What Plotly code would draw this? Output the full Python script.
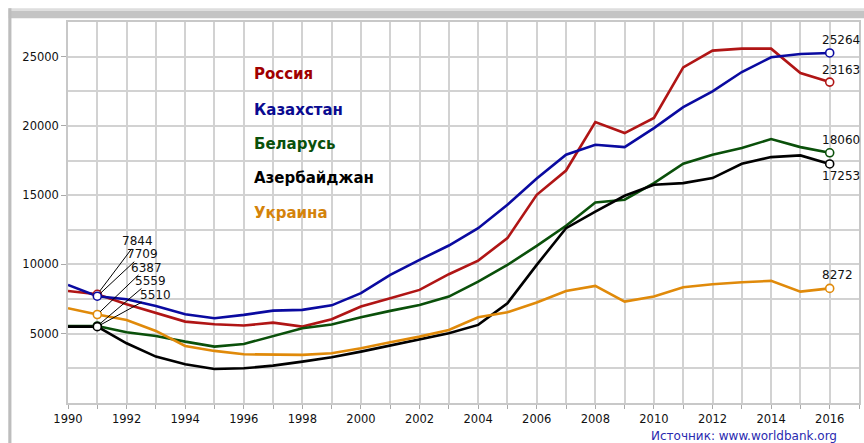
import plotly.graph_objects as go

years = list(range(1990, 2017))

russia = [8090, 7844, 7130, 6525, 5875, 5680, 5590, 5800, 5515, 6045, 6960, 7560, 8164, 9295,
          10280, 11900, 15028, 16780, 20280, 19485, 20570, 24226, 25432, 25577, 25577, 23820, 23163]
kazakhstan = [8525, 7709, 7490, 7008, 6400, 6120, 6360, 6670, 6720, 7050, 7925, 9248, 10330, 11365,
              12620, 14305, 16200, 17918, 18640, 18470, 19845, 21360, 22490, 23890, 24950, 25190, 25264]
belarus = [5560, 5559, 5105, 4840, 4430, 4070, 4260, 4840, 5395, 5660, 6190, 6650, 7080, 7680,
           8765, 9970, 11340, 12790, 14470, 14670, 15870, 17270, 17918, 18400, 19050, 18470, 18060]
azerbaijan = [5515, 5510, 4310, 3350, 2795, 2455, 2505, 2695, 2985, 3300, 3710, 4140, 4550, 5035,
              5636, 7200, 9970, 12620, 13820, 14955, 15750, 15870, 16233, 17270, 17750, 17870, 17253]
ukraine = [6840, 6387, 5997, 5200, 4120, 3760, 3515, 3470, 3470, 3590, 3950, 4385, 4790, 5274,
           6190, 6550, 7250, 8090, 8450, 7320, 7680, 8360, 8575, 8720, 8815, 8040, 8272]

names = ["Россия", "Казахстан", "Беларусь", "Азербайджан", "Украина"]
series = [russia, kazakhstan, belarus, azerbaijan, ukraine]
line_colors = ["#B01515", "#0A0AA0", "#0A500A", "#000000", "#E08A0A"]
text_colors = ["#A00000", "#0A0A90", "#0A500A", "#000000", "#D4830A"]

y_tick_vals = [5000, 10000, 15000, 20000, 25000]
x_tick_vals = list(range(1990, 2017, 2))

fig = go.Figure()

for name, vals, col in zip(names, series, line_colors):
    fig.add_trace(go.Scatter(x=years, y=vals, mode="lines", name=name,
                             line=dict(color=col, width=2.6), showlegend=False))

# endpoint markers (1991 and 2016)
for name, vals, col in zip(names, series, line_colors):
    fig.add_trace(go.Scatter(x=[years[1], years[-1]], y=[vals[1], vals[-1]], mode="markers",
                             marker=dict(symbol="circle", size=8, color="white",
                                         line=dict(color=col, width=1.6)),
                             showlegend=False, hoverinfo="skip"))

annotations = []
# legend-like labels
legend_y = [0.863, 0.770, 0.680, 0.591, 0.499]
for name, col, ly in zip(names, text_colors, legend_y):
    annotations.append(dict(xref="paper", yref="paper", x=0.233, y=ly, text="<b>" + name + "</b>",
                            showarrow=False, xanchor="left", yanchor="middle",
                            font=dict(family="DejaVu Sans", size=15, color=col)))

# 1991 value labels with leader lines
start_order = [russia, kazakhstan, ukraine, belarus, azerbaijan]
offsets = [(40, -53), (45, -42), (49, -47), (53, -45), (58, -32)]
for vals, (axp, ayp) in zip(start_order, offsets):
    annotations.append(dict(x=years[1], y=vals[1], xref="x", yref="y", text=str(vals[1]),
                            showarrow=True, arrowhead=0, arrowwidth=1, arrowcolor="#000000",
                            ax=axp, ay=ayp, standoff=4, borderpad=0,
                            font=dict(family="DejaVu Sans", size=12, color="#111111")))

# 2016 value labels
end_shift = {"Казахстан": 13, "Россия": 12, "Беларусь": 13, "Азербайджан": -12, "Украина": 13}
for name, vals in zip(names, series):
    annotations.append(dict(x=years[-1], y=vals[-1], xref="x", yref="y", text=str(vals[-1]),
                            showarrow=False, xanchor="left", yanchor="middle",
                            xshift=-10, yshift=end_shift[name],
                            font=dict(family="DejaVu Sans", size=12, color="#111111")))

annotations.append(dict(xref="paper", yref="paper", x=0.975, y=-0.087,
                        text="Источник: www.worldbank.org", showarrow=False,
                        xanchor="right", yanchor="middle",
                        font=dict(family="DejaVu Sans", size=12, color="#2A2AB0")))

shapes = [
    # top grey band of the frame
    dict(type="rect", xref="paper", yref="paper", x0=-0.075, x1=1.01, y0=1.010, y1=1.030,
         fillcolor="#C4C4C4", line=dict(width=0), layer="below"),
    dict(type="rect", xref="paper", yref="paper", x0=-0.075, x1=1.01, y0=1.030, y1=1.036,
         fillcolor="#DEDEDE", line=dict(width=0), layer="below"),
    # left border
    dict(type="rect", xref="paper", yref="paper", x0=-0.0755, x1=-0.0715, y0=-0.11, y1=1.036,
         fillcolor="#BDBDBD", line=dict(width=0), layer="below"),
]

fig.update_layout(
    width=864, height=443,
    margin=dict(l=68, r=3, t=22, b=40),
    paper_bgcolor="white", plot_bgcolor="white",
    font=dict(family="DejaVu Sans", size=11, color="#111111"),
    annotations=annotations, shapes=shapes,
    xaxis=dict(range=[1990, 2017], tickvals=x_tick_vals, ticktext=[str(v) for v in x_tick_vals],
               showgrid=True, gridcolor="#D2D2D2", gridwidth=1.5,
               ticks="outside", ticklen=4, tickcolor="#AAAAAA",
               minor=dict(dtick=1, tick0=1990, showgrid=True, gridcolor="#D2D2D2", gridwidth=1.5,
                          ticks="outside", ticklen=4, tickcolor="#AAAAAA"),
               showline=True, linecolor="#C8C8C8", linewidth=1.5, mirror=True,
               zeroline=False, tickfont=dict(size=11.5, color="#111111")),
    yaxis=dict(range=[0, 27500], tickvals=y_tick_vals, ticktext=[str(v) for v in y_tick_vals],
               showgrid=True, gridcolor="#D2D2D2", gridwidth=1.5,
               ticks="outside", ticklen=5, tickcolor="#AAAAAA",
               minor=dict(dtick=2500, tick0=0, showgrid=True, gridcolor="#D2D2D2", gridwidth=1.5),
               showline=True, linecolor="#C8C8C8", linewidth=1.5, mirror=True,
               zeroline=False, tickfont=dict(size=11.5, color="#111111")),
)

fig.write_html("out.html", config={"displayModeBar": False},
               post_script="document.body.style.margin='0';")
